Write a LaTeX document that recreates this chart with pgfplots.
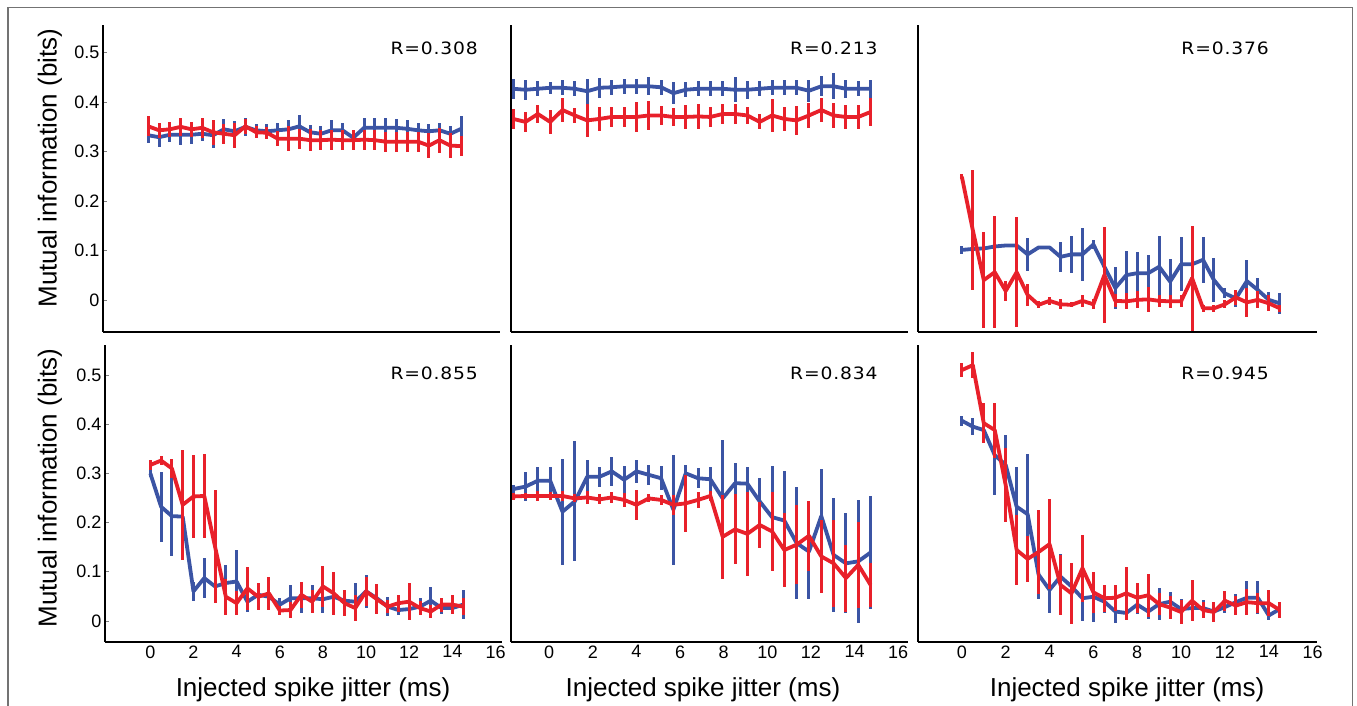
\documentclass[border=0pt]{standalone}
\usepackage{fontspec}
\setmainfont{Liberation Sans}
\newfontfamily\rfont[FakeStretch=1.1, LetterSpace=5]{DejaVu Sans}
\usepackage{pgfplots}
\usepackage{pgfplotstable}
\pgfplotsset{compat=1.18}
\definecolor{miblue}{HTML}{3B54A4}
\definecolor{mired}{HTML}{E8202A}

% columns: jitter, blue mean, blue err, red mean, red err
\pgfplotstableread{
x b be r re
0 0.333 0.015 0.351 0.020
0.5 0.329 0.020 0.343 0.015
1 0.334 0.015 0.345 0.015
1.5 0.334 0.020 0.350 0.018
2 0.334 0.018 0.345 0.015
2.5 0.336 0.015 0.348 0.020
3 0.333 0.025 0.339 0.025
3.5 0.345 0.020 0.336 0.020
4 0.341 0.020 0.333 0.025
4.5 0.350 0.018 0.351 0.015
5 0.343 0.012 0.339 0.012
5.5 0.341 0.015 0.338 0.012
6 0.343 0.015 0.326 0.015
6.5 0.345 0.018 0.326 0.025
7 0.351 0.022 0.326 0.020
7.5 0.339 0.015 0.323 0.022
8 0.336 0.015 0.323 0.020
8.5 0.343 0.020 0.324 0.020
9 0.343 0.015 0.323 0.020
9.5 0.328 0.012 0.323 0.020
10 0.348 0.020 0.324 0.020
10.5 0.348 0.020 0.323 0.020
11 0.348 0.020 0.320 0.020
11.5 0.348 0.018 0.320 0.020
12 0.346 0.018 0.320 0.020
12.5 0.343 0.015 0.320 0.020
13 0.341 0.015 0.312 0.025
13.5 0.343 0.015 0.323 0.025
14 0.336 0.015 0.312 0.025
14.5 0.346 0.025 0.311 0.020
}\tabTL

\pgfplotstableread{
x b be r re
-1.65 0.427 0.020 0.366 0.020
-1.085 0.425 0.020 0.360 0.020
-0.52 0.427 0.015 0.376 0.018
0.045 0.429 0.012 0.360 0.025
0.61 0.429 0.015 0.384 0.025
1.175 0.427 0.015 0.373 0.015
1.74 0.422 0.025 0.363 0.033
2.305 0.429 0.020 0.366 0.025
2.87 0.430 0.015 0.370 0.020
3.435 0.432 0.015 0.370 0.020
4.0 0.432 0.015 0.370 0.030
4.565 0.432 0.018 0.373 0.030
5.13 0.430 0.015 0.373 0.020
5.695 0.418 0.022 0.370 0.018
6.26 0.425 0.015 0.370 0.025
6.825 0.427 0.015 0.371 0.025
7.39 0.427 0.015 0.370 0.020
7.955 0.427 0.015 0.376 0.020
8.52 0.425 0.025 0.376 0.020
9.085 0.425 0.018 0.373 0.018
9.65 0.427 0.015 0.360 0.015
10.215 0.429 0.015 0.373 0.033
10.78 0.429 0.015 0.366 0.025
11.345 0.429 0.015 0.363 0.030
11.91 0.423 0.022 0.373 0.025
12.475 0.432 0.020 0.384 0.025
13.04 0.432 0.026 0.373 0.025
13.605 0.427 0.018 0.370 0.025
14.17 0.427 0.015 0.370 0.025
14.735 0.427 0.018 0.380 0.028
}\tabTM

\pgfplotstableread{
x b be r re
0 0.101 0.008 0.249 0.005
0.5 0.103 0.005 0.141 0.122
1 0.104 0.003 0.040 0.097
1.5 0.108 0.003 0.056 0.113
2 0.110 0.003 0.018 0.020
2.5 0.110 0.005 0.056 0.111
3 0.092 0.034 0.010 0.022
3.5 0.106 0.003 -0.010 0.007
4 0.106 0.003 -0.002 0.008
4.5 0.087 0.030 -0.009 0.010
5 0.092 0.037 -0.010 0.005
5.5 0.092 0.054 -0.002 0.012
6 0.112 0.010 -0.009 0.010
6.5 0.067 0.040 0.050 0.097
7 0.024 0.042 -0.002 0.013
7.5 0.050 0.048 -0.003 0.016
8 0.054 0.042 0.000 0.017
8.5 0.054 0.037 0.001 0.026
9 0.067 0.062 -0.002 0.012
9.5 0.037 0.046 -0.003 0.013
10 0.072 0.055 -0.003 0.012
10.5 0.072 0.047 0.044 0.106
11 0.081 0.046 -0.017 0.007
11.5 0.040 0.045 -0.017 0.007
12 0.013 0.010 -0.009 0.008
12.5 0.003 0.017 0.005 0.015
13 0.038 0.042 -0.005 0.030
13.5 0.020 0.024 0.000 0.017
14 0.000 0.015 -0.007 0.016
14.5 -0.007 0.021 -0.017 0.007
}\tabTR

\pgfplotstableread{
x b be r re
0 0.300 0.007 0.317 0.010
0.5 0.232 0.071 0.326 0.010
1 0.213 0.081 0.310 0.020
1.5 0.212 0.070 0.236 0.112
2 0.060 0.020 0.253 0.085
2.5 0.087 0.041 0.254 0.085
3 0.070 0.030 0.151 0.115
3.5 0.077 0.037 0.049 0.037
4 0.080 0.064 0.036 0.024
4.5 0.039 0.020 0.066 0.044
5 0.053 0.020 0.049 0.027
5.5 0.049 0.024 0.056 0.034
6 0.033 0.014 0.021 0.010
6.5 0.046 0.027 0.022 0.017
7 0.046 0.030 0.053 0.027
7.5 0.046 0.027 0.039 0.024
8 0.044 0.027 0.070 0.041
8.5 0.049 0.037 0.056 0.044
9 0.041 0.020 0.036 0.027
9.5 0.039 0.037 0.026 0.027
10 0.060 0.034 0.060 0.030
10.5 0.046 0.020 0.044 0.030
11 0.029 0.020 0.029 0.014
11.5 0.022 0.010 0.036 0.017
12 0.024 0.014 0.039 0.037
12.5 0.029 0.017 0.026 0.014
13 0.041 0.027 0.019 0.014
13.5 0.026 0.012 0.033 0.014
14 0.026 0.012 0.033 0.020
14.5 0.033 0.030 0.029 0.017
}\tabBL

\pgfplotstableread{
x b be r re
-1.65 0.268 0.008 0.253 0.007
-1.085 0.273 0.030 0.254 0.007
-0.52 0.285 0.027 0.254 0.010
0.045 0.285 0.027 0.254 0.008
0.61 0.222 0.108 0.254 0.010
1.175 0.243 0.122 0.249 0.008
1.74 0.293 0.034 0.251 0.014
2.305 0.293 0.020 0.247 0.010
2.87 0.304 0.030 0.251 0.012
3.435 0.287 0.027 0.246 0.014
4.0 0.304 0.024 0.236 0.030
4.565 0.297 0.020 0.249 0.008
5.13 0.290 0.024 0.246 0.010
5.695 0.226 0.112 0.236 0.020
6.26 0.300 0.017 0.239 0.058
6.825 0.290 0.020 0.246 0.017
7.39 0.288 0.024 0.254 0.010
7.955 0.249 0.119 0.171 0.085
8.52 0.280 0.041 0.186 0.071
9.085 0.279 0.034 0.177 0.085
9.65 0.243 0.047 0.195 0.047
10.215 0.211 0.103 0.182 0.081
10.78 0.204 0.100 0.144 0.075
11.345 0.158 0.114 0.155 0.081
11.91 0.141 0.096 0.173 0.071
12.475 0.213 0.095 0.131 0.075
13.04 0.134 0.115 0.117 0.088
13.605 0.117 0.102 0.087 0.068
14.17 0.121 0.125 0.114 0.088
14.735 0.139 0.114 0.073 0.044
}\tabBM

\pgfplotstableread{
x b be r re
0 0.407 0.010 0.510 0.014
0.5 0.395 0.017 0.520 0.027
1 0.388 0.014 0.402 0.041
1.5 0.337 0.081 0.388 0.056
2 0.317 0.061 0.276 0.075
2.5 0.232 0.081 0.144 0.071
3 0.217 0.122 0.126 0.046
3.5 0.094 0.049 0.140 0.085
4 0.063 0.047 0.156 0.091
4.5 0.090 0.046 0.073 0.061
5 0.070 0.047 0.056 0.062
5.5 0.046 0.047 0.107 0.068
6 0.049 0.051 0.058 0.042
6.5 0.039 0.024 0.046 0.027
7 0.019 0.024 0.047 0.026
7.5 0.016 0.012 0.056 0.054
8 0.033 0.020 0.047 0.030
8.5 0.019 0.015 0.052 0.044
9 0.034 0.032 0.034 0.022
9.5 0.039 0.019 0.027 0.024
10 0.024 0.020 0.018 0.024
10.5 0.026 0.017 0.041 0.042
11 0.026 0.017 0.022 0.017
11.5 0.019 0.014 0.018 0.020
12 0.028 0.012 0.041 0.020
12.5 0.038 0.017 0.031 0.019
13 0.047 0.034 0.038 0.026
13.5 0.047 0.034 0.036 0.020
14 0.011 0.010 0.036 0.026
14.5 0.024 0.012 0.022 0.017
}\tabBR

\tikzset{rlab/.style={anchor=east, font=\rfont\fontsize{17}{20}\selectfont}}

\pgfplotsset{
  panel/.style={
    scale only axis, width=397pt,
    axis x line*=bottom, axis y line*=left,
    axis line style={-, line width=1.2pt},
    /pgf/number format/assume math mode=true,
    ticklabel style={font=\fontsize{18}{21}\selectfont},
    label style={font=\fontsize{26}{30}\selectfont},
    xtick style={draw=none},
    ytick style={line width=0.6pt},
    tick align=inside, major tick length=4pt,
    clip=false,
  },
  toprow/.style={height=307pt, ymin=-0.065, ymax=0.556, xtick=\empty},
  botrow/.style={height=297pt, ymin=-0.043, ymax=0.561, xtick={0,2,...,16},
    xlabel={Injected spike jitter (ms)}},
  leftcol/.style={xmin=-2.1, xmax=16.3, ytick={0,0.1,...,0.5},
    ylabel={Mutual information (bits)}},
  midcol/.style={xmin=-1.75, xmax=16.45, ytick=\empty},
  rightcol/.style={xmin=-2.0, xmax=16.2, ytick=\empty, width=399pt},
  bl/.style={color=miblue, line width=3.8pt, line join=round, no marks,
    error bars/.cd, y dir=both, y explicit, error mark=none,
    error bar style={line width=3pt, miblue}},
  rd/.style={color=mired, line width=3.8pt, line join=round, no marks,
    error bars/.cd, y dir=both, y explicit, error mark=none,
    error bar style={line width=3pt, mired}},
}

\begin{document}
\begin{tikzpicture}
\useasboundingbox (0,0) rectangle (1357pt,705pt);
\draw[line width=1.3pt, black!55] (8pt,-10pt) -- (8pt,697.5pt) -- (1352.5pt,697.5pt) -- (1352.5pt,-10pt);

\begin{axis}[panel, toprow, leftcol, at={(103pt,373pt)}, anchor=south west,
  ylabel style={at={(axis description cs:-0.1335,0.534)}, anchor=center}]
\addplot[bl] table[x=x, y=b, y error=be] {\tabTL};
\addplot[rd] table[x=x, y=r, y error=re] {\tabTL};
\node[rlab] at (axis description cs:0.953,0.923) {R=0.308};
\end{axis}

\begin{axis}[panel, toprow, midcol, at={(511pt,373pt)}, anchor=south west]
\addplot[bl] table[x=x, y=b, y error=be] {\tabTM};
\addplot[rd] table[x=x, y=r, y error=re] {\tabTM};
\node[rlab] at (axis description cs:0.932,0.923) {R=0.213};
\end{axis}

\begin{axis}[panel, toprow, rightcol, at={(918pt,373pt)}, anchor=south west]
\addplot[bl] table[x=x, y=b, y error=be] {\tabTR};
\addplot[rd] table[x=x, y=r, y error=re] {\tabTR};
\node[rlab] at (axis description cs:0.888,0.923) {R=0.376};
\end{axis}

\begin{axis}[panel, botrow, leftcol, at={(105pt,63pt)}, anchor=south west,
  ylabel style={at={(axis description cs:-0.1385,0.518)}, anchor=center},
  xlabel style={at={(axis description cs:0.524,-0.1616)}, anchor=center}]
\addplot[bl] table[x=x, y=b, y error=be] {\tabBL};
\addplot[rd] table[x=x, y=r, y error=re] {\tabBL};
\node[rlab] at (axis description cs:0.948,0.904) {R=0.855};
\end{axis}

\begin{axis}[panel, botrow, midcol, at={(511pt,63pt)}, anchor=south west,
  xlabel style={at={(axis description cs:0.4836,-0.1616)}, anchor=center}]
\addplot[bl] table[x=x, y=b, y error=be] {\tabBM};
\addplot[rd] table[x=x, y=r, y error=re] {\tabBM};
\node[rlab] at (axis description cs:0.932,0.906) {R=0.834};
\end{axis}

\begin{axis}[panel, botrow, rightcol, at={(918pt,63pt)}, anchor=south west,
  xlabel style={at={(axis description cs:0.524,-0.1616)}, anchor=center}]
\addplot[bl] table[x=x, y=b, y error=be] {\tabBR};
\addplot[rd] table[x=x, y=r, y error=re] {\tabBR};
\node[rlab] at (axis description cs:0.888,0.906) {R=0.945};
\end{axis}
\end{tikzpicture}
\end{document}
